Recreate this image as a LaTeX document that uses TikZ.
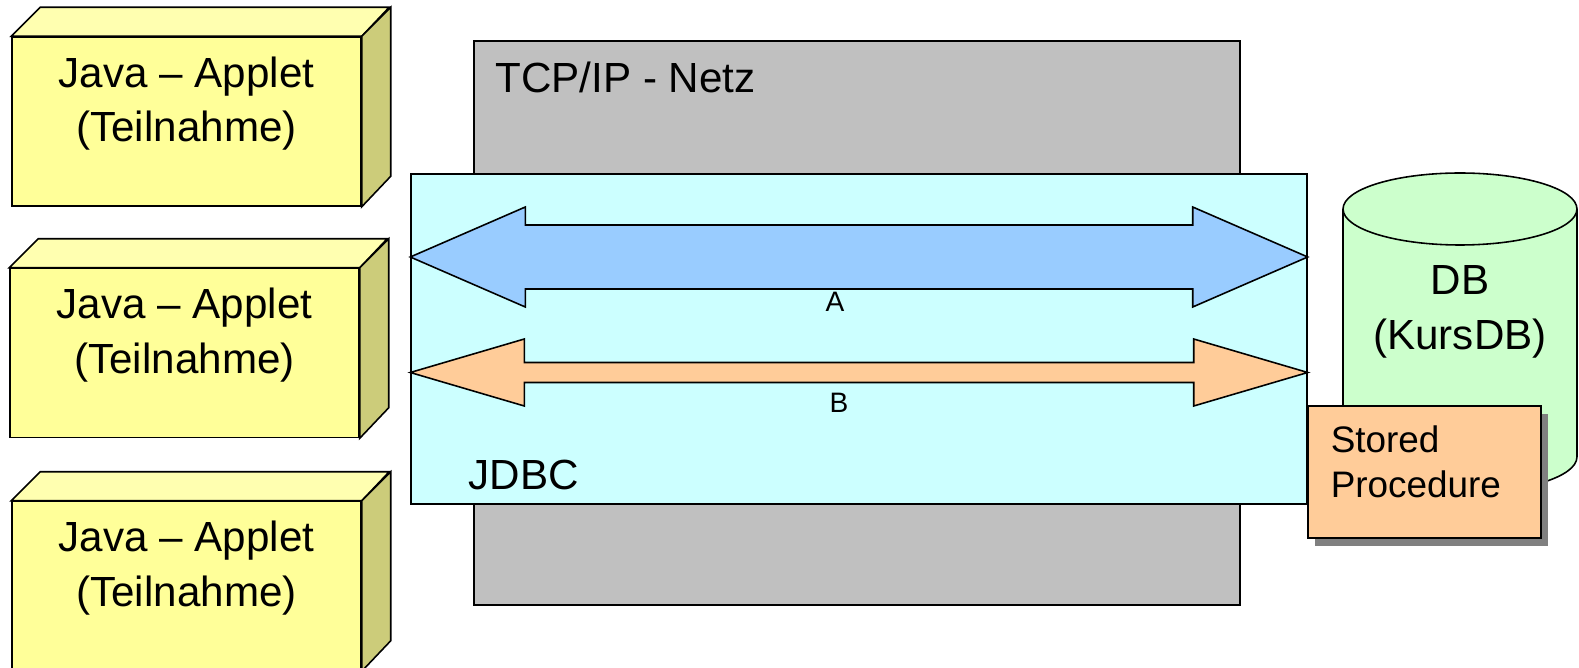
\documentclass[tikz,border=0pt]{standalone}
\usepackage{fontspec}
\setmainfont{Liberation Sans}
\usetikzlibrary{calc}
\usetikzlibrary{shadows}
\definecolor{appletfront}{RGB}{255, 255, 153}
\definecolor{applettop}{RGB}{255, 255, 176}
\definecolor{appletside}{RGB}{204, 204, 122}
\definecolor{netgray}{RGB}{192, 192, 192}
\definecolor{jdbccyan}{RGB}{204, 255, 255}
\definecolor{arrowblue}{RGB}{153, 204, 255}
\definecolor{arroworange}{RGB}{255, 204, 153}
\definecolor{dbgreen}{RGB}{204, 255, 204}
\definecolor{shadowgray}{RGB}{128, 128, 128}

\begin{document}
\begin{tikzpicture}[x=0.02cm, y=-0.02cm, line width=0.9pt, line join=miter,
  big/.style={font=\fontsize{24}{31}\selectfont, align=center},
  small/.style={font=\fontsize{16}{19}\selectfont},
  applet/.style={draw, fill=appletfront, minimum width=6.98cm, minimum height=3.38cm, inner sep=0pt},
  plane/.style={draw, inner sep=0pt}]
\useasboundingbox (0,0) rectangle (1579,668);
\foreach \i/\x/\y in {1/186.5/121.5, 2/184.5/353, 3/186.5/586} {
  \node (app\i) [applet] at (\x,\y) {};
  \draw[fill=applettop] (app\i.north west) -- ++(29,-29) -- ++(349,0) -- (app\i.north east) -- cycle;
  \draw[fill=appletside] (app\i.north east) -- ++(29,-29) -- ++(0,169) -- (app\i.south east) -- cycle;
  \node (app\i-text) [big] at (\x,\y-18) {Java -- Applet\\(Teilnahme)};
}
\node (netz) [plane, fill=netgray, minimum width=15.32cm, minimum height=11.28cm] at (857,323) {};
\node (netz-text) [big, anchor=base west] at (489,93) {TCP/IP - Netz};
\node (jdbc) [plane, fill=jdbccyan, minimum width=17.92cm, minimum height=6.6cm] at (859,339) {};
\node (jdbc-text) [big, anchor=base west] at (462,490) {JDBC};
\foreach \n/\yy/\hl/\hh/\hs/\col in {A/257/115/50/32/arrowblue, B/372.5/114/33.5/10/arroworange} {
  \coordinate (\n-l) at (jdbc.west |- 0,\yy);
  \coordinate (\n-r) at (jdbc.east |- 0,\yy);
  \draw[fill=\col] (\n-l) -- ($(\n-l)+(\hl,-\hh)$) -- ($(\n-l)+(\hl,-\hs)$) -- ($(\n-r)+(-\hl,-\hs)$)
    -- ($(\n-r)+(-\hl,-\hh)$) -- (\n-r) -- ($(\n-r)+(-\hl,\hh)$) -- ($(\n-r)+(-\hl,\hs)$)
    -- ($(\n-l)+(\hl,\hs)$) -- ($(\n-l)+(\hl,\hh)$) -- cycle;
}
\node (label-a) [small] at (835,302) {A};
\node (label-b) [small] at (839,403) {B};
\draw[fill=dbgreen] (1343,209) -- (1343,457) arc[start angle=180, end angle=360, x radius=2.34cm, y radius=0.72cm] -- (1577,209);
\draw[fill=dbgreen] (1460,209) ellipse[x radius=2.34cm, y radius=0.72cm];
\node (db) [big] at (1460,312) {DB\\(KursDB)};
\node (proc) [draw, fill=arroworange, minimum width=4.66cm, minimum height=2.64cm,
  drop shadow={shadow xshift=0.14cm, shadow yshift=-0.16cm, fill=shadowgray, opacity=1}] at (1424.5,472) {};
\node (proc-text) [anchor=west, inner sep=0pt, align=left, font=\fontsize{21}{25.6}\selectfont] at (1330,462) {Stored\\Procedure};
\end{tikzpicture}
\end{document}
